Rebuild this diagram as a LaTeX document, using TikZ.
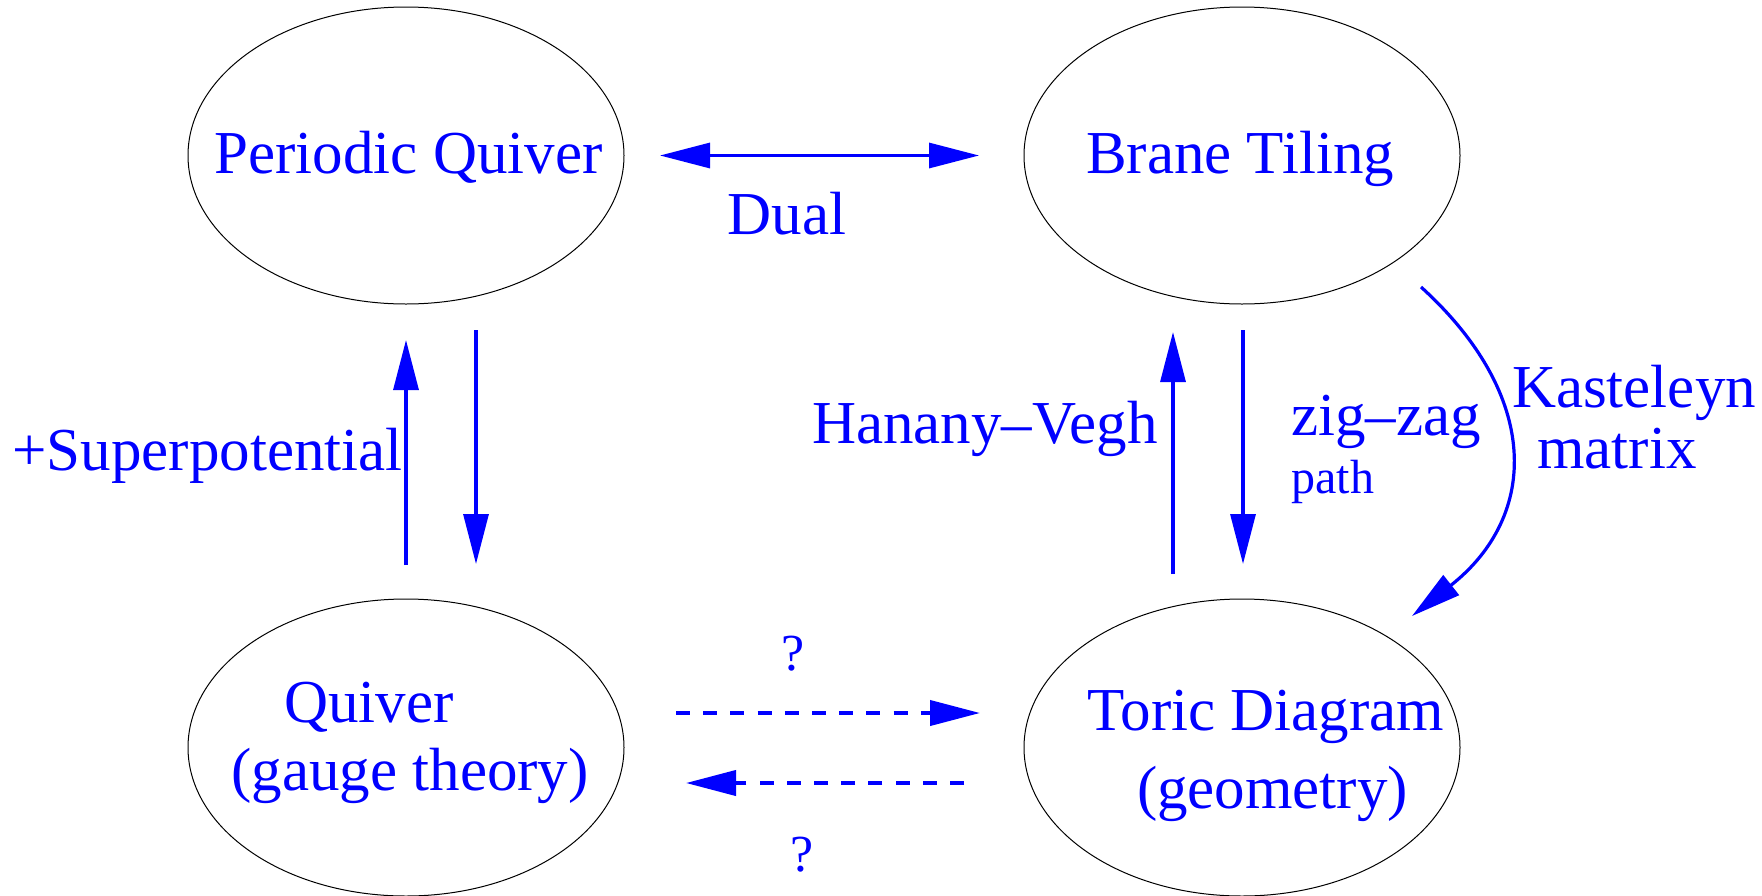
\documentclass[tikz,border=0pt]{standalone}
\usepackage{fontspec}
\setmainfont{Liberation Serif}
\usetikzlibrary{shapes.geometric,arrows.meta}
\definecolor{pblue}{RGB}{0,0,255}
\begin{document}
\begin{tikzpicture}[x=0.5pt,y=-0.5pt,
  bubble/.style={draw=black, line width=0.5pt, ellipse, minimum width=218pt, minimum height=148.5pt, inner sep=0pt},
  lbl/.style={text=pblue, font=\fontsize{30.5}{36}\selectfont, inner sep=0pt, anchor=base},
  smalllbl/.style={lbl, font=\fontsize{24}{28}\selectfont},
  qlbl/.style={lbl, font=\fontsize{26}{30}\selectfont},
  link/.style={draw=pblue, line width=1.6pt, -{Triangle[length=25pt,width=12.5pt]}},
  bilink/.style={link, {Triangle[length=25pt,width=12.5pt]}-{Triangle[length=25pt,width=12.5pt]}},
  dlink/.style={link, line width=2pt, dash pattern=on 7pt off 6.6pt}]
\useasboundingbox (0,0) rectangle (1762,895);
% ellipses
\node[bubble] (PQ) at (406,155.5) {};
\node[bubble] (BT) at (1242,155.5) {};
\node[bubble] (Q)  at (406,747.5) {};
\node[bubble] (TD) at (1242,747.5) {};
% texts in ellipses
\node[lbl] (tPQ) at (408.5,173) {Periodic Quiver};
\node[lbl] (tBT) at (1240,173) {Brane Tiling};
\node[lbl] (tQ1) at (369,722) {Quiver};
\node[lbl] (tQ2) at (410,790) {(gauge theory)};
\node[lbl] (tTD1) at (1266,730) {Toric Diagram};
\node[lbl] (tTD2) at (1272.5,808.5) {(geometry)};
% connector labels
\node[lbl] (lDual) at (787,234) {Dual};
\node[lbl] (lSup) at (207.5,470) {+Superpotential};
\node[lbl] (lHV) at (985,443) {Hanany–Vegh};
\node[lbl,anchor=base west] (lZZ) at (1291,435) {zig–zag};
\node[smalllbl,anchor=base west] (lPath) at (1291,493) {path};
\node[lbl] (lK1) at (1634,407) {Kasteleyn};
\node[lbl] (lK2) at (1617,468) {matrix};
\node[qlbl] (lQ1) at (793.5,670) {?};
\node[qlbl] (lQ2) at (802.5,871) {?};
% connector end points
\coordinate (dualL) at (660,155.5);
\coordinate (dualR) at (979,155.5);
\coordinate (supA) at (406,565);
\coordinate (supB) at (406,340);
\coordinate (remA) at (476,330);
\coordinate (remB) at (476,564);
\coordinate (hvA) at (1173,574);
\coordinate (hvB) at (1173,332);
\coordinate (zzA) at (1243,330);
\coordinate (zzB) at (1243,564);
\coordinate (kA) at (1421,287);
\coordinate (kB) at (1412,616);
\coordinate (qtA) at (676,713);
\coordinate (qtB) at (980,713);
\coordinate (tqA) at (964,783);
\coordinate (tqB) at (686,783);
% connectors
\draw[bilink] (dualL) -- (dualR);
\draw[link] (supA) -- (supB);
\draw[link] (remA) -- (remB);
\draw[link] (hvA) -- (hvB);
\draw[link] (zzA) -- (zzB);
\draw[link] (kA) .. controls (1540,395) and (1540,515) .. (kB);
\draw[dlink] (qtA) -- (qtB);
\draw[dlink] (tqA) -- (tqB);
\end{tikzpicture}
\end{document}
